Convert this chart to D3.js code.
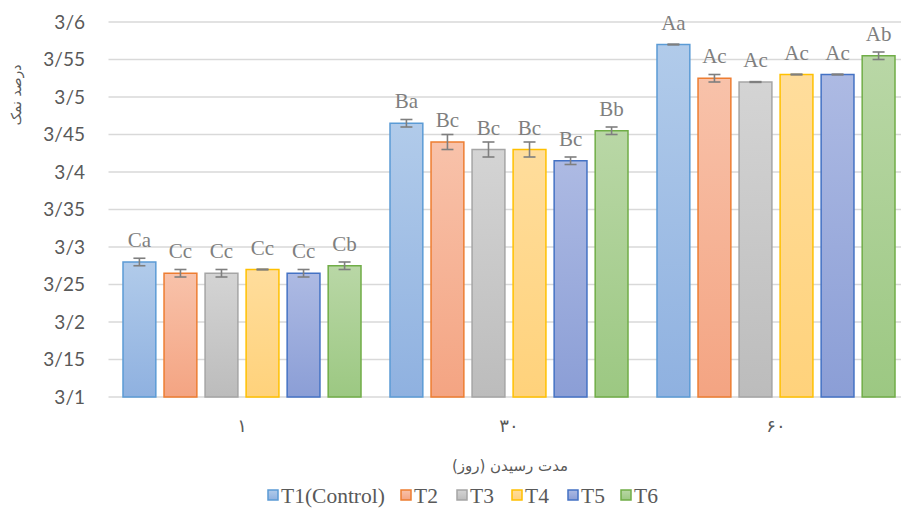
<!DOCTYPE html>
<html>
<head>
<meta charset="utf-8">
<script src="https://cdn.jsdelivr.net/npm/d3@7"></script>
<style>
  body { margin: 0; background: #fff; }
  svg { display: block; }
  .serif { font-family: "Liberation Serif", "Times New Roman", "DejaVu Serif", serif; }
</style>
</head>
<body>
<div id="chart"></div>
<script>
// data
var days = ["۱", "۳۰", "۶۰"];
var series = ["T1(Control)", "T2", "T3", "T4", "T5", "T6"];
var means = [
  [3.28, 3.265, 3.265, 3.27, 3.265, 3.275],
  [3.465, 3.44, 3.43, 3.43, 3.415, 3.455],
  [3.57, 3.525, 3.52, 3.53, 3.53, 3.555]
];
var errs = [
  [0.005, 0.005, 0.005, 0.0005, 0.005, 0.005],
  [0.005, 0.01, 0.01, 0.01, 0.005, 0.005],
  [0.0005, 0.005, 0.0005, 0.0005, 0.0005, 0.005]
];
var letters = [
  ["Ca", "Cc", "Cc", "Cc", "Cc", "Cb"],
  ["Ba", "Bc", "Bc", "Bc", "Bc", "Bb"],
  ["Aa", "Ac", "Ac", "Ac", "Ac", "Ab"]
];
var yTicks = [3.1, 3.15, 3.2, 3.25, 3.3, 3.35, 3.4, 3.45, 3.5, 3.55, 3.6];

var strokes = ["#5b9bd5", "#ed7d31", "#a5a5a5", "#ffc000", "#4472c4", "#70ad47"];
var topFill = ["#b1cbea", "#f8c2aa", "#d4d4d4", "#ffdd9c", "#adbae3", "#b9d7a6"];
var botFill = ["#8fb1e0", "#f4a482", "#bcbcbc", "#ffd27b", "#8b9ed6", "#9cc882"];

var W = 901, H = 508;
var pLeft = 108.5, pRight = 909.5, pTop = 22, pBottom = 397;

var svg = d3.select("#chart").append("svg")
  .attr("width", W).attr("height", H);

var defs = svg.append("defs");
series.forEach(function(s, i) {
  var g = defs.append("linearGradient")
    .attr("id", "grad" + i)
    .attr("x1", 0).attr("y1", 0).attr("x2", 0).attr("y2", 1);
  g.append("stop").attr("offset", "0%").attr("stop-color", topFill[i]);
  g.append("stop").attr("offset", "100%").attr("stop-color", botFill[i]);
});

var y = d3.scaleLinear().domain([3.1, 3.6]).range([pBottom, pTop]);
var x0 = d3.scaleBand().domain(days).range([pLeft, pRight]).padding(0);
var x1 = d3.scaleBand().domain(series)
  .range([14.5, x0.bandwidth() - 14.5]).paddingInner(0.2);

var fmt = function(v) {
  return d3.format(".2~f")(v).replace(".", "/");
};

// gridlines
svg.append("g").selectAll("line")
  .data(yTicks).enter().append("line")
  .attr("x1", pLeft).attr("x2", pRight)
  .attr("y1", function(d) { return y(d); })
  .attr("y2", function(d) { return y(d); })
  .attr("stroke", "#d9d9d9").attr("stroke-width", 1.3);

// y tick labels
svg.append("g").selectAll("text")
  .data(yTicks).enter().append("text")
  .attr("x", 85)
  .attr("y", function(d) { return y(d); })
  .attr("dy", "0.36em")
  .attr("text-anchor", "end")
  .style("font-family", "Lato, sans-serif")
  .style("font-size", "19px")
  .style("fill", "#595959")
  .text(fmt);

// y title
svg.append("text")
  .attr("transform", "translate(21,95) rotate(-90)")
  .attr("text-anchor", "middle")
  .style("font-family", "'DejaVu Sans', sans-serif")
  .style("font-size", "14px")
  .style("fill", "#595959")
  .text("درصد نمک");

var groups = svg.append("g").selectAll("g")
  .data(days).enter().append("g")
  .attr("transform", function(d) { return "translate(" + x0(d) + ",0)"; });

groups.each(function(day, gi) {
  var g = d3.select(this);
  var rows = series.map(function(s, i) {
    return { s: s, i: i, v: means[gi][i], e: errs[gi][i], l: letters[gi][i] };
  });

  g.selectAll("rect").data(rows).enter().append("rect")
    .attr("x", function(d) { return x1(d.s); })
    .attr("y", function(d) { return y(d.v); })
    .attr("width", x1.bandwidth())
    .attr("height", function(d) { return pBottom - y(d.v); })
    .attr("fill", function(d) { return "url(#grad" + d.i + ")"; })
    .attr("stroke", function(d) { return strokes[d.i]; })
    .attr("stroke-width", 1.5);

  // error bars
  var eb = g.selectAll(".err").data(rows).enter().append("g").attr("class", "err")
    .attr("stroke", "#7f7f7f").attr("stroke-width", 1.6);
  eb.append("line")
    .attr("x1", function(d) { return x1(d.s) + x1.bandwidth() / 2; })
    .attr("x2", function(d) { return x1(d.s) + x1.bandwidth() / 2; })
    .attr("y1", function(d) { return y(d.v + d.e); })
    .attr("y2", function(d) { return y(d.v - d.e); });
  [1, -1].forEach(function(sg) {
    eb.append("line")
      .attr("x1", function(d) { return x1(d.s) + x1.bandwidth() / 2 - 6; })
      .attr("x2", function(d) { return x1(d.s) + x1.bandwidth() / 2 + 6; })
      .attr("y1", function(d) { return y(d.v + sg * d.e); })
      .attr("y2", function(d) { return y(d.v + sg * d.e); });
  });

  // letter labels
  g.selectAll(".lbl").data(rows).enter().append("text").attr("class", "lbl serif")
    .attr("x", function(d) { return x1(d.s) + x1.bandwidth() / 2; })
    .attr("y", function(d) { return y(d.v) - 15; })
    .attr("text-anchor", "middle")
    .style("font-size", "21px")
    .style("fill", "#7f7f7f")
    .text(function(d) { return d.l; });

  // category label
  g.append("text")
    .attr("x", x0.bandwidth() / 2)
    .attr("y", 432)
    .attr("text-anchor", "middle")
    .style("font-family", "'DejaVu Sans', sans-serif")
    .style("font-size", "18px")
    .style("fill", "#595959")
    .text(day);
});

// x title
svg.append("text")
  .attr("x", 510).attr("y", 471)
  .attr("text-anchor", "middle")
  .style("font-family", "'DejaVu Sans', sans-serif")
  .style("font-size", "15px")
  .style("fill", "#595959")
  .text("مدت رسیدن (روز)");

// legend
var legX = [268, 401, 457, 512, 568, 621];
var leg = svg.append("g").selectAll("g")
  .data(series).enter().append("g")
  .attr("transform", function(d, i) { return "translate(" + legX[i] + ",490)"; });
leg.append("rect")
  .attr("width", 10).attr("height", 10)
  .attr("fill", function(d, i) { return "url(#grad" + i + ")"; })
  .attr("stroke", function(d, i) { return strokes[i]; })
  .attr("stroke-width", 1.5);
leg.append("text")
  .attr("class", "serif")
  .attr("x", 13).attr("y", 12.5)
  .style("font-size", "21.5px")
  .style("fill", "#595959")
  .text(function(d) { return d; });
</script>
</body>
</html>
